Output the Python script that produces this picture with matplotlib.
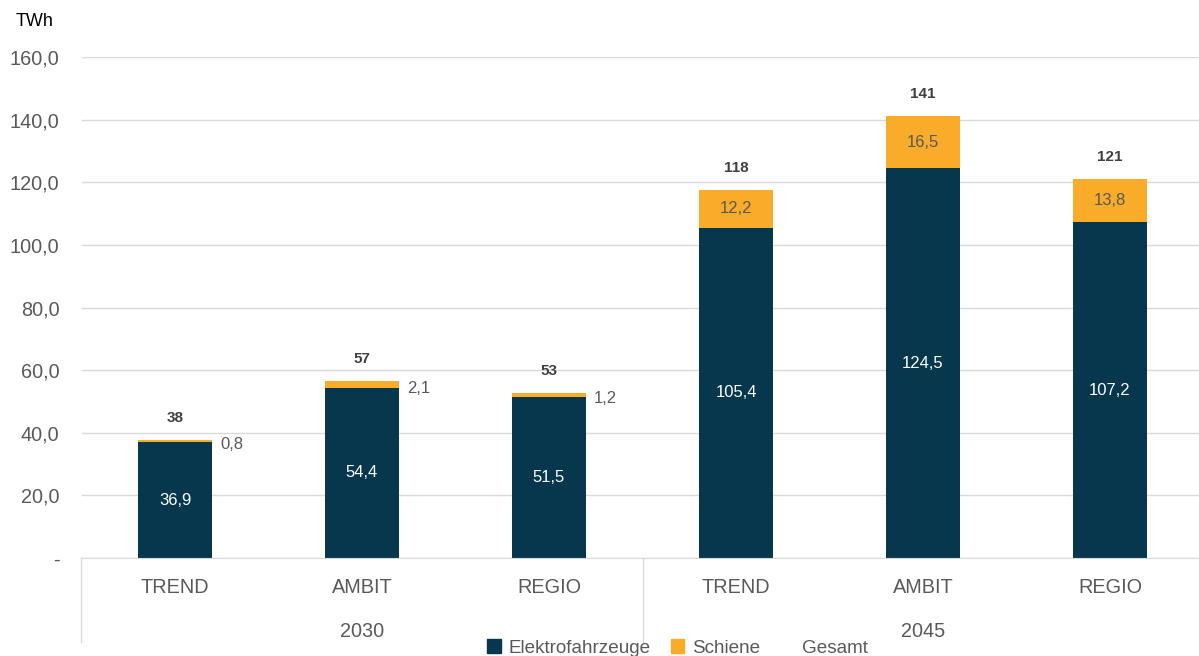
import numpy as np
import matplotlib.pyplot as plt
from matplotlib.patches import Patch
from matplotlib.ticker import FixedLocator, FixedFormatter

plt.rcParams['font.family'] = ['Liberation Sans', 'DejaVu Sans']

scenarios = ['TREND', 'AMBIT', 'REGIO', 'TREND', 'AMBIT', 'REGIO']
years = ['2030', '2045']
elektro = [36.9, 54.4, 51.5, 105.4, 124.5, 107.2]
schiene = [0.8, 2.1, 1.2, 12.2, 16.5, 13.8]
gesamt = [38, 57, 53, 118, 141, 121]
yticks = [0, 20, 40, 60, 80, 100, 120, 140, 160]

NAVY = '#06374d'
ORANGE = '#f9ab2a'
GRAY = '#595959'
GRID = '#d9d9d9'

fig = plt.figure(figsize=(11.99, 6.56), dpi=100)
ax = fig.add_axes([81.5 / 1199, 98 / 656, 1122 / 1199, 501 / 656])

x = np.arange(len(scenarios))
w = 0.4
ax.bar(x, elektro, w, color=NAVY, zorder=3)
ax.bar(x, schiene, w, bottom=elektro, color=ORANGE, zorder=3)

ax.set_xlim(-0.5, len(scenarios) - 0.5)
ax.set_ylim(0, 160)
ax.yaxis.set_major_locator(FixedLocator(yticks))
ax.yaxis.set_major_formatter(FixedFormatter(['-'] + [f'{v:.1f}'.replace('.', ',') for v in yticks[1:]]))
ax.tick_params(axis='y', length=0, pad=16, labelsize=14.3, labelcolor=GRAY)
ax.set_xticks([])
ax.grid(axis='y', color=GRID, lw=1, zorder=0)
for s in ['left', 'right', 'top']:
    ax.spines[s].set_visible(False)
ax.spines['bottom'].set_color(GRID)
ax.spines['bottom'].set_zorder(4)

# value labels
for i in range(len(x)):
    ax.text(x[i], elektro[i] / 2, f'{elektro[i]:.1f}'.replace('.', ','), ha='center', va='center',
            color='white', fontsize=12, zorder=5)
    top = elektro[i] + schiene[i]
    lab = f'{schiene[i]:.1f}'.replace('.', ',')
    if schiene[i] < 5:
        ax.text(x[i] + w / 2 + 0.04, elektro[i] + schiene[i] / 2 - 1.2, lab, ha='left', va='center',
                color=GRAY, fontsize=12)
    else:
        ax.text(x[i], elektro[i] + schiene[i] / 2, lab, ha='center', va='center',
                color=GRAY, fontsize=12, zorder=5)
    ax.annotate(str(gesamt[i]), (x[i], top), xytext=(0, 16), textcoords='offset points',
                ha='center', va='center', fontsize=11, fontweight='bold', color='#404040')

# category axis
trans = ax.get_xaxis_transform()
for i, s in enumerate(scenarios):
    ax.text(x[i], -0.058, s, transform=trans, ha='center', va='center', fontsize=14.3, color=GRAY)
for j, yr in enumerate(years):
    ax.text(3 * j + 1, -0.146, yr, transform=trans, ha='center', va='center', fontsize=14.3, color=GRAY)
for xs in [-0.5, 2.5, 5.5]:
    ax.plot([xs, xs], [0, -0.168], transform=trans, color=GRID, lw=1, clip_on=False)

fig.text(16 / 1199, 1 - 21 / 656, 'TWh', ha='left', va='center', fontsize=13, color='black')

handles = [Patch(color=NAVY), Patch(color=ORANGE), Patch(facecolor='none', edgecolor='none')]
fig.legend(handles, ['Elektrofahrzeuge', 'Schiene', 'Gesamt'], loc='center', ncol=3,
           bbox_to_anchor=(677.5 / 1199, 8 / 656), frameon=False, fontsize=13.6,
           labelcolor=GRAY, handlelength=0.7, handleheight=0.7, handletextpad=0.4, columnspacing=1.1)

fig.savefig('out.png', dpi=100)
